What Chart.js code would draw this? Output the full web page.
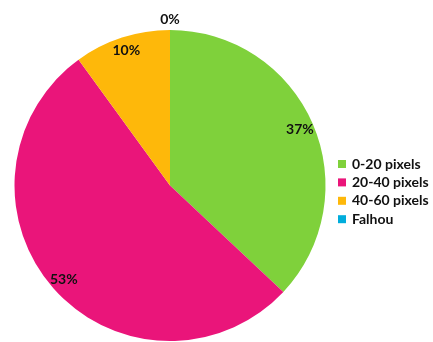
<!DOCTYPE html>
<html>
<head>
<meta charset="utf-8">
<script src="https://cdn.jsdelivr.net/npm/chart.js@4"></script>
<style>
  html, body { margin: 0; padding: 0; background: #fff; }
  #wrap { width: 433px; height: 342px; }
</style>
</head>
<body>
<div id="wrap"><canvas id="pie" width="433" height="342"></canvas></div>
<script>
// Dados
const categorias = ['0-20 pixels', '20-40 pixels', '40-60 pixels', 'Falhou'];
const percentuais = [37, 53, 10, 0];
const cores = ['#7FD13B', '#EA157A', '#FEB80A', '#00ADDC'];

const FONTE = 'bold 14px Lato, "Open Sans", sans-serif';

// Rótulos de percentual sobre as fatias
const rotulos = {
  id: 'rotulos',
  afterDatasetsDraw(chart) {
    const ctx = chart.ctx;
    const arcs = chart.getDatasetMeta(0).data;
    ctx.save();
    ctx.font = FONTE;
    ctx.fillStyle = '#111';
    ctx.textAlign = 'center';
    ctx.textBaseline = 'middle';
    arcs.forEach((a, i) => {
      const meio = (a.startAngle + a.endAngle) / 2;
      const dist = percentuais[i] > 0 ? a.outerRadius * 0.91 : a.outerRadius + 11;
      const x = a.x + Math.cos(meio) * dist;
      const y = a.y + Math.sin(meio) * dist;
      ctx.fillText(percentuais[i] + '%', x, y);
    });
    ctx.restore();
  }
};

// Legenda à direita
const legenda = {
  id: 'legenda',
  afterDraw(chart) {
    const ctx = chart.ctx;
    ctx.save();
    ctx.font = FONTE;
    ctx.textBaseline = 'middle';
    categorias.forEach((c, i) => {
      const y = 164 + i * 18.4;
      ctx.fillStyle = cores[i];
      ctx.fillRect(338, y - 4, 8, 8);
      ctx.fillStyle = '#111';
      ctx.fillText(c, 352, y);
    });
    ctx.restore();
  }
};

new Chart(document.getElementById('pie'), {
  type: 'pie',
  data: {
    labels: categorias,
    datasets: [{ data: percentuais, backgroundColor: cores, borderWidth: 0 }]
  },
  options: {
    responsive: false,
    animation: false,
    layout: { padding: { left: 14, right: 107, top: 30, bottom: 1 } },
    plugins: { legend: { display: false }, tooltip: { enabled: false } }
  },
  plugins: [rotulos, legenda]
});
</script>
</body>
</html>
